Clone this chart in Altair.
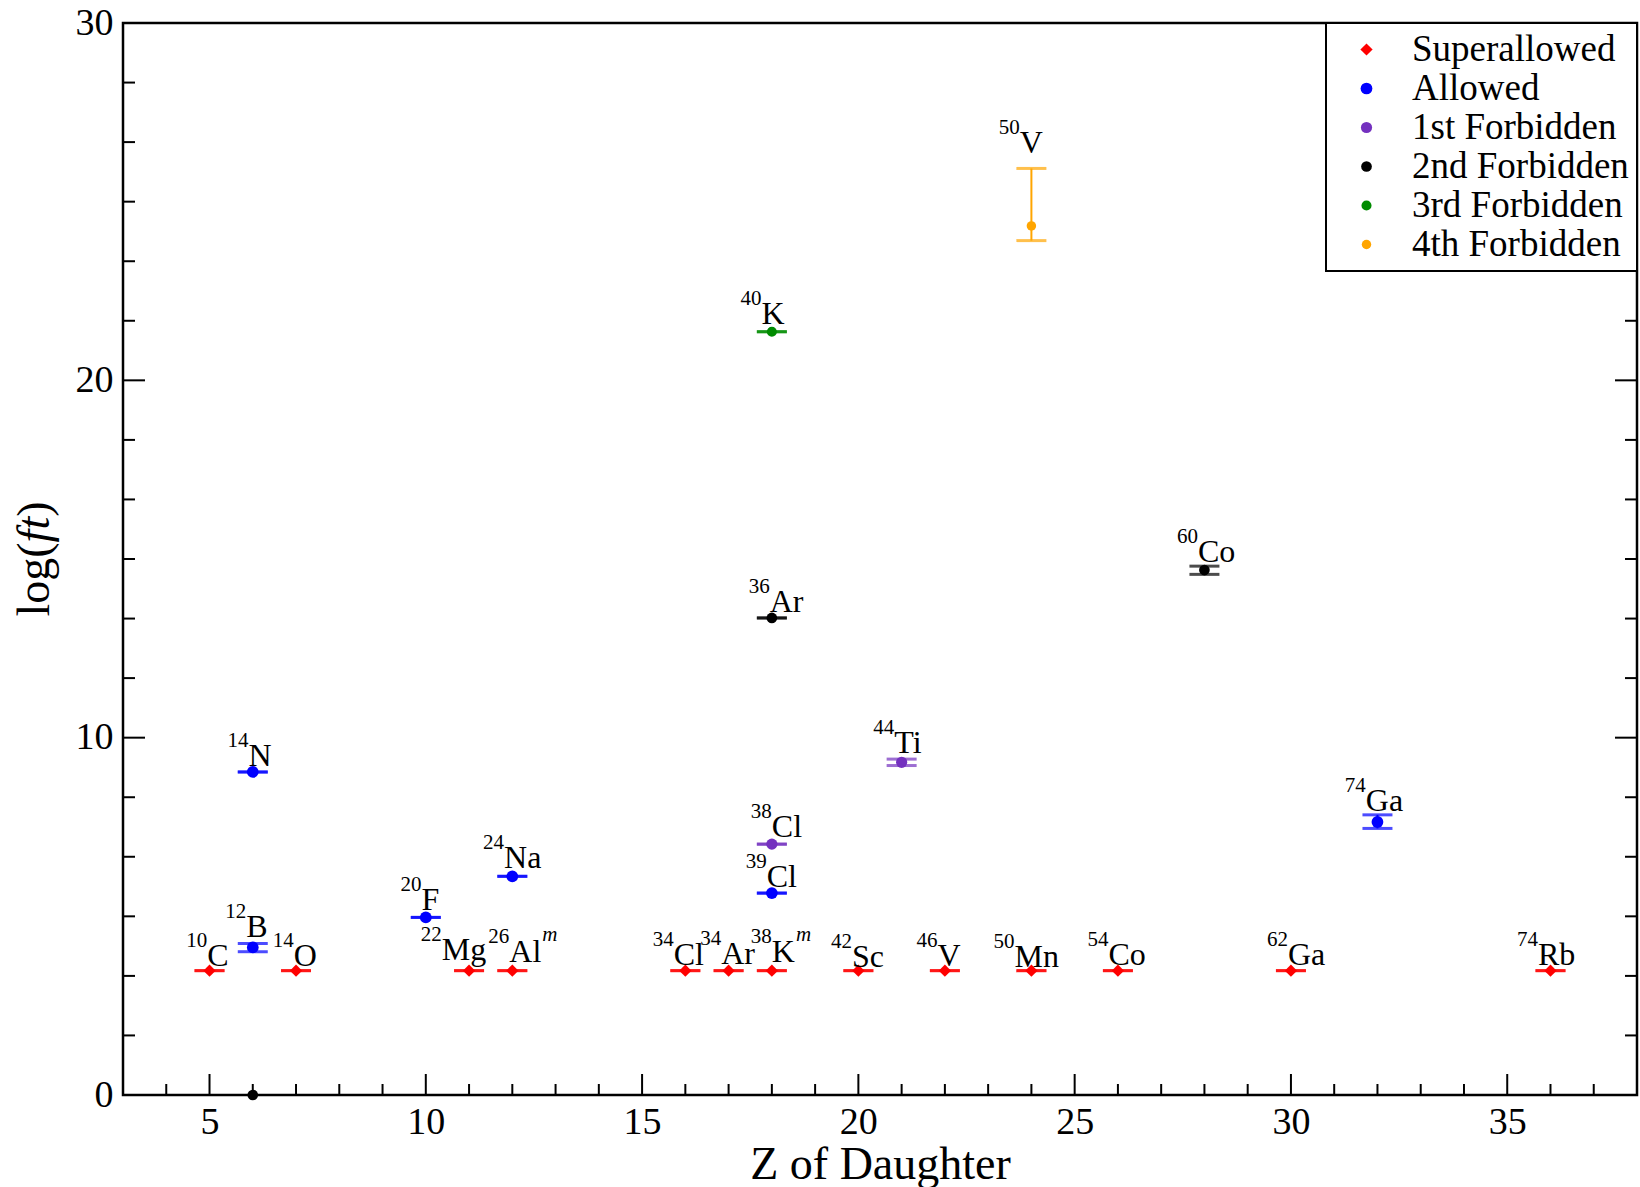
import altair as alt
import pandas as pd

# ---------------- data ----------------
categories = ["Superallowed", "Allowed", "1st Forbidden", "2nd Forbidden",
              "3rd Forbidden", "4th Forbidden"]
cat_colors = ["#ff0000", "#0000ff", "#7431bf", "#000000", "#008b00", "#ffa500"]
cat_shapes = ["diamond", "circle", "circle", "circle", "circle", "circle"]
cat_sizes = [150, 90, 90, 90, 90, 90]

category = ["Superallowed", "Superallowed", "Superallowed", "Superallowed",
            "Superallowed", "Superallowed", "Superallowed", "Superallowed",
            "Superallowed", "Superallowed", "Superallowed", "Superallowed",
            "Superallowed",
            "Allowed", "Allowed", "Allowed", "Allowed", "Allowed", "Allowed",
            "1st Forbidden", "1st Forbidden",
            "2nd Forbidden", "2nd Forbidden", "2nd Forbidden",
            "3rd Forbidden",
            "4th Forbidden"]
z_daughter = [5, 7, 11, 12, 16, 17, 18, 20, 22, 24, 26, 30, 36,
              6, 6, 10, 12, 18, 32,
              18, 21,
              18, 28, 6,
              18,
              24]
log_ft = [3.48, 3.48, 3.48, 3.48, 3.48, 3.48, 3.48, 3.48, 3.48, 3.48, 3.48, 3.48, 3.48,
          9.04, 4.13, 4.97, 6.12, 5.65, 7.64,
          7.02, 9.31,
          13.35, 14.69, 0.0,
          21.36,
          24.32]
log_ft_low = [3.48, 3.48, 3.48, 3.48, 3.48, 3.48, 3.48, 3.48, 3.48, 3.48, 3.48, 3.48, 3.48,
              9.04, 4.01, 4.97, 6.12, 5.65, 7.46,
              7.02, 9.22,
              13.35, 14.57, None,
              21.36,
              23.91]
log_ft_high = [3.48, 3.48, 3.48, 3.48, 3.48, 3.48, 3.48, 3.48, 3.48, 3.48, 3.48, 3.48, 3.48,
               9.04, 4.24, 4.97, 6.12, 5.65, 7.84,
               7.02, 9.40,
               13.35, 14.80, None,
               21.36,
               25.93]
mass_number = ["10", "14", "22", "26", "34", "34", "38", "42", "46", "50", "54", "62", "74",
               "14", "12", "20", "24", "39", "74",
               "38", "44",
               "36", "60", "",
               "40",
               "50"]
element = ["C", "O", "Mg", "Al", "Cl", "Ar", "K", "Sc", "V", "Mn", "Co", "Ga", "Rb",
           "N", "B", "F", "Na", "Cl", "Ga",
           "Cl", "Ti",
           "Ar", "Co", "",
           "K",
           "V"]
isomer = [False, False, False, True, False, False, True, False, False, False, False, False, False,
          False, False, False, False, False, False,
          False, False,
          False, False, False,
          False,
          False]
label_x = [4.95, 6.95, 10.37, 11.93, 15.73, 16.83, 18.0, 19.85, 21.83, 23.61, 25.78, 29.93, 35.71,
           5.90, 5.85, 9.90, 11.81, 17.88, 31.73,
           18.0, 20.83,
           17.95, 27.85, 6.0,
           17.76,
           23.73]
label_y = [3.60, 3.60, 3.78, 3.72, 3.63, 3.66, 3.72, 3.57, 3.60, 3.57, 3.63, 3.63, 3.63,
           9.22, 4.42, 5.18, 6.35, 5.82, 7.96,
           7.23, 9.57,
           13.52, 14.93, 0.0,
           21.57,
           26.37]

x_major_ticks = [5, 10, 15, 20, 25, 30, 35]
x_minor_ticks = [4, 6, 7, 8, 9, 11, 12, 13, 14, 16, 17, 18, 19, 21, 22, 23, 24,
                 26, 27, 28, 29, 31, 32, 33, 34, 36, 37]
y_major_ticks = [10, 20]
y_minor_ticks = [1.667, 3.333, 5, 6.667, 8.333, 11.667, 13.333, 15, 16.667, 18.333,
                 21.667, 23.333, 25, 26.667, 28.333]
y_tick_labels = [0, 10, 20, 30]
x_tick_labels = [5, 10, 15, 20, 25, 30, 35]

# ---------------- layout / style ----------------
W, H = 1514, 1072
FONT = "Liberation Serif"
EL_SIZE = 32
SUP_SIZE = 21
# Liberation Serif advance widths (per em) used to place the isomer "m"
CHAR_W = {"A": 0.722, "l": 0.278, "K": 0.722, "C": 0.667, "o": 0.5}

df = pd.DataFrame({
    "category": category, "Z": z_daughter, "logft": log_ft,
    "lo": log_ft_low, "hi": log_ft_high,
    "iso": mass_number, "el": element, "isomer": isomer,
    "lx": label_x, "ly": label_y,
})
lab = df[df["el"] != ""]
err = df.dropna(subset=["lo", "hi"])

xs = alt.Scale(domain=[3, 38], nice=False, zero=False)
ys = alt.Scale(domain=[0, 30], nice=False, zero=False)
xaxis = alt.Axis(values=x_tick_labels, title="Z of Daughter", grid=False, domain=False,
                 ticks=False, labelFontSize=38, labelPadding=8, titleFontSize=46,
                 titleFontWeight="normal", titlePadding=1, labelFlush=False)
yaxis = alt.Axis(values=y_tick_labels, title=None, grid=False, domain=False,
                 ticks=False, labelFontSize=38, labelPadding=10, labelFlush=False)

def X(f):
    return alt.X(f, type="quantitative", scale=xs, axis=xaxis)

def Y(f):
    return alt.Y(f, type="quantitative", scale=ys, axis=yaxis)

color_scale = alt.Scale(domain=categories, range=cat_colors)
shape_scale = alt.Scale(domain=categories, range=cat_shapes)
color_enc = alt.Color("category:N", scale=color_scale, legend=alt.Legend(title=None))
shape_enc = alt.Shape("category:N", scale=shape_scale, legend=alt.Legend(title=None))
size_enc = alt.Size("category:N", scale=alt.Scale(domain=categories, range=cat_sizes),
                    legend=None)

ebase = alt.Chart(err)

err_line = ebase.mark_rule(strokeWidth=2).encode(x=X("Z"), y=Y("lo"), y2="hi", color=color_enc)
cap_lo = ebase.mark_tick(orient="horizontal", size=30, thickness=3).encode(
    x=X("Z"), y=Y("lo"), color=color_enc)
cap_hi = ebase.mark_tick(orient="horizontal", size=30, thickness=3).encode(
    x=X("Z"), y=Y("hi"), color=color_enc)
points = alt.Chart(df).mark_point(filled=True, opacity=1).encode(
    x=X("Z"), y=Y("logft"), color=color_enc, shape=shape_enc, size=size_enc)

lab_chart = alt.Chart(lab)
sup_text = lab_chart.mark_text(align="right", baseline="alphabetic", dy=-19, font=FONT,
                               fontSize=SUP_SIZE, color="black").encode(
    x=X("lx"), y=Y("ly"), text="iso:N")
el_text = lab_chart.mark_text(align="left", baseline="alphabetic", font=FONT,
                              fontSize=EL_SIZE, color="black").encode(
    x=X("lx"), y=Y("ly"), text="el:N")

layers = [err_line, cap_lo, cap_hi, points, sup_text, el_text]

for _, row in df[df["isomer"]].iterrows():
    wpx = sum(CHAR_W.get(c, 0.5) for c in row["el"]) * EL_SIZE
    m_layer = alt.Chart(pd.DataFrame([row])).mark_text(
        align="left", baseline="alphabetic", dx=wpx + 1, dy=-21, font=FONT,
        fontSize=SUP_SIZE, fontStyle="italic", color="black").encode(
        x=X("lx"), y=Y("ly"), text=alt.value("m"))
    layers.append(m_layer)

# inward ticks
def xticks(vals, length):
    return alt.Chart(pd.DataFrame({"v": vals})).mark_rule(color="black", strokeWidth=2).encode(
        x=X("v"), y=alt.value(H), y2=alt.value(H - length))

def yticks(vals, length, right=False):
    x0 = W if right else 0
    x1 = W - length if right else length
    return alt.Chart(pd.DataFrame({"v": vals})).mark_rule(color="black", strokeWidth=2).encode(
        y=Y("v"), x=alt.value(x0), x2=alt.value(x1))

layers += [xticks(x_major_ticks, 21), xticks(x_minor_ticks, 11),
           yticks(y_major_ticks, 22), yticks(y_minor_ticks, 12),
           yticks(y_major_ticks, 22, True), yticks(y_minor_ticks, 12, True)]

# y-axis title: log(ft) with italic ft, rotated
TSIZE = 46
pieces = [("log(", "normal", 1.611), ("ft", "italic", 0.556), (")", "normal", 0.333)]
total = sum(p[2] for p in pieces) * TSIZE
ypos = H / 2 + total / 2
for txt, style, wem in pieces:
    layers.append(alt.Chart(pd.DataFrame({"t": [txt]})).mark_text(
        align="left", baseline="middle", angle=270, font=FONT, fontSize=TSIZE,
        fontStyle=style, color="black").encode(
        x=alt.value(-88), y=alt.value(ypos), text="t:N"))
    ypos -= wem * TSIZE

chart = alt.layer(*layers).properties(
    width=W, height=H,
    autosize=alt.AutoSizeParams(type="none"),
    padding={"left": 123, "top": 23, "right": 3, "bottom": 92},
    background="white",
).configure_view(
    stroke="black", strokeWidth=2.5
).configure_axis(
    labelFont=FONT, titleFont=FONT, labelColor="black", titleColor="black"
).configure_legend(
    orient="top-right", offset=0, strokeColor="black", strokeWidth=2, fillColor="white",
    padding=8, labelFont=FONT, labelFontSize=37, labelColor="black", labelLimit=400,
    symbolSize=60, symbolOpacity=1, symbolOffset=14, labelOffset=27, rowPadding=1,
    symbolStrokeWidth=0
)

chart.save("out.html", embed_options={"renderer": "svg", "actions": False})
